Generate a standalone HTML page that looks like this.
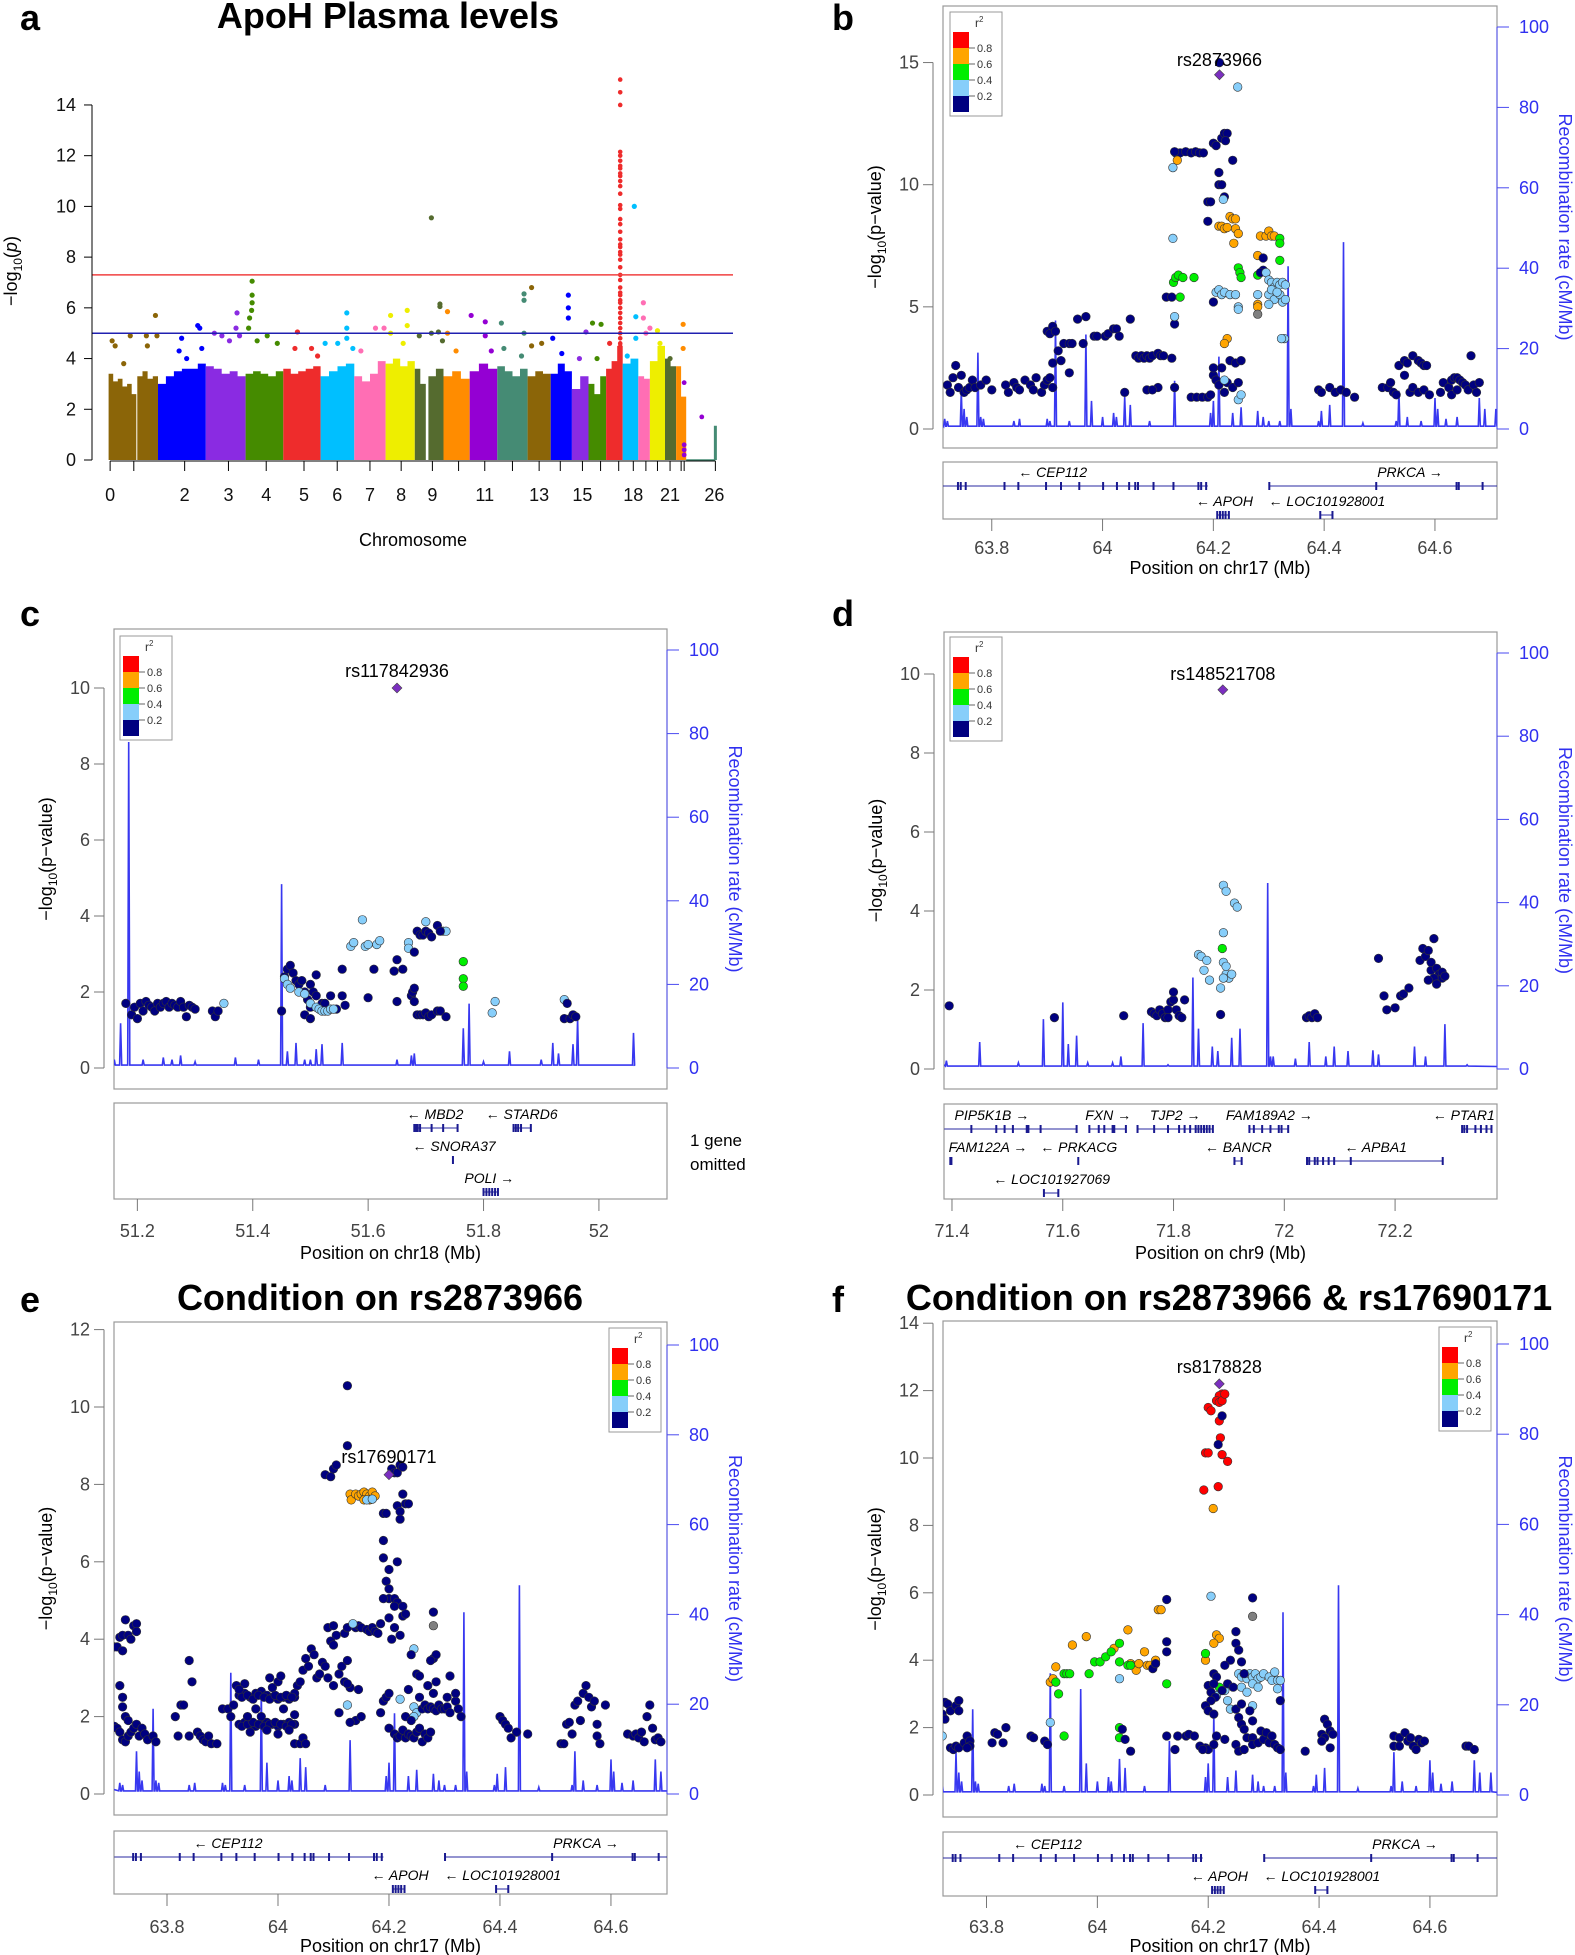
<!DOCTYPE html>
<html><head><meta charset="utf-8"><title>ApoH figure</title>
<style>
html,body{margin:0;padding:0;background:#fff;}
svg{display:block;font-family:"Liberation Sans",Arial,sans-serif;}
</style></head>
<body>
<svg id="fig" width="1575" height="1955" viewBox="0 0 1575 1955" xmlns="http://www.w3.org/2000/svg"></svg>
<script>
// ================= DATA =================
// Panel a: Manhattan chromosome blocks (cumulative genome units)
const chrStart = [215,272,313,408,487,562,636,703,765,823,850,880,932,987,1047,1093,1135,1168,1203,1236,1267,1290,1320,1342];
const chrEnd   = [270,313,408,487,562,636,703,765,823,845,880,932,987,1047,1093,1135,1168,1203,1236,1267,1290,1320,1342,1362];
const chrColor = ['#8B6508','#8B6508','#0000FF','#8A2BE2','#458B00','#EE2C2C','#00BFFF','#FF6EB4','#EEEE00','#556B2F','#556B2F','#FF8C00','#9400D3','#458B74','#8B6508','#0000FF','#8A2BE2','#458B00','#EE2C2C','#00BFFF','#FF6EB4','#EEEE00','#556B2F','#FF8C00'];
const chrBody = [[3.4,3.1,3.2,2.9,3.0,2.6],[3.3,3.5,3.2,3.3],[3.0,3.3,3.5,3.6,3.6,3.8],[3.7,3.6,3.4,3.5,3.3],[3.4,3.5,3.4,3.3,3.5],[3.6,3.4,3.5,3.6,3.7],[3.3,3.5,3.7,3.8],[3.3,3.1,3.4,3.9],[3.8,4.0,3.7,3.9],[3.6,3.0],[3.3,3.6],[3.3,3.5,3.2],[3.5,3.8,3.6],[3.7,3.5,3.3,3.6],[3.3,3.5,3.4],[3.4,3.8,3.5],[2.8,3.3],[3.0,2.6,3.3],[3.6,3.9,4.5],[3.8,4.0],[3.3,3.2],[3.9,4.5],[4.0,3.7],[3.7,2.5]];
// top hits: [genome unit, -log10 p, chromosome block index]
const manHits = [[222,4.7,0],[228,4.5,0],[245,3.8,0],[258,4.9,0],[290,4.9,1],[292,4.5,1],[308,5.7,1],[311,4.9,1],
[355,4.3,2],[360,4.8,2],[392,5.3,2],[396,5.2,2],[370,4.0,2],[400,4.4,2],
[425,5.0,3],[440,4.9,3],[455,4.7,3],[470,5.8,3],[468,5.2,3],[475,4.9,3],
[500,7.05,4],[500,6.5,4],[495,5.6,4],[500,6.2,4],[499,5.9,4],[510,4.7,4],[530,4.9,4],[550,4.6,4],[493,5.2,4],
[590,5.05,5],[585,4.4,5],[618,4.4,5],[630,4.1,5],
[645,4.6,6],[670,4.6,6],[688,5.8,6],[688,5.2,6],[688,4.8,6],[700,4.4,6],
[716,4.3,7],[745,5.2,7],[762,5.2,7],
[775,5.7,8],[808,5.9,8],[808,5.3,8],[800,4.6,8],[775,5.0,8],
[832,4.9,9],
[856,9.55,10],[873,6.15,10],[873,6.05,10],[856,5.0,10],[870,5.05,10],[878,4.7,10],
[888,5.85,11],[888,5.0,11],[905,4.3,11],
[935,5.7,12],[963,5.45,12],[963,4.9,12],[975,4.3,12],
[995,5.4,13],[1000,4.4,13],[1040,6.55,13],[1040,6.3,13],[1040,5.0,13],[1035,4.1,13],
[1055,6.8,14],[1055,4.5,14],[1075,4.6,14],
[1097,4.8,15],[1128,6.5,15],[1128,6.0,15],[1128,5.6,15],[1115,4.2,15],
[1163,5.05,16],[1150,4.0,16],
[1176,5.4,17],[1193,5.35,17],[1185,4.0,17],
[1210,4.6,18],
[1259,10.0,19],[1262,5.65,19],[1262,4.8,19],[1245,4.1,19],
[1277,6.2,20],[1277,5.6,20],[1282,5.0,20],[1290,5.2,20],
[1305,5.1,21],[1310,4.6,21],
[1330,4.0,22],
[1356,5.35,23],[1356,4.4,23]];
// chr17 column values
const chr17ColPos = 1231;
const chr17ColVals = [4.6,4.8,5.0,5.2,5.4,5.6,5.8,6.0,6.2,6.3,6.5,6.6,6.8,7.1,7.3,7.6,7.9,8.1,8.2,8.4,8.5,8.7,9.0,9.3,9.5,9.9,10.05,10.5,10.8,11.0,11.2,11.3,11.5,11.6,11.8,12.0,12.15,14.0,14.5,15.0];
const smallHits = [[1358,3.05,'#9400D3'],[1358,0.6,'#9400D3'],[1358,0.4,'#9400D3'],[1358,0.2,'#9400D3'],[1393,1.7,'#9400D3']];
const chr26Col = [1420,1.35];
const manTickPos = [218,265,366,453,528,603,669,734,796,858,910,962,1017,1070,1112,1156,1192,1228,1257,1282,1305,1330,1352,1358,1420];
const manLabPos = [218,366,453,528,603,669,734,796,858,962,1070,1156,1257,1330,1418];
const manLabTxt = ['0','2','3','4','5','6','7','8','9','11','13','15','18','21','26'];
const manYTicks = [0,2,4,6,8,10,12,14];
const sigLine = 7.3, sugLine = 5;

// LD colors: 0 navy,1 lightblue,2 green,3 orange,4 red,5 gray
const ldColors = ['#000080','#87CEFA','#00EE00','#FFA500','#FF0000','#808080'];

// Recombination rate spikes chr17 [pos Mb], [cM/Mb]
const rec17Pos  = [63.715,63.72,63.745,63.75,63.755,63.775,63.78,63.785,63.84,63.85,63.9,63.905,63.915,63.94,63.97,63.98,64.0,64.02,64.025,64.04,64.05,64.085,64.13,64.195,64.2,64.21,64.235,64.25,64.28,64.29,64.3,64.32,64.335,64.34,64.39,64.395,64.41,64.435,64.47,64.53,64.535,64.55,64.575,64.6,64.605,64.62,64.64,64.68,64.69,64.71];
const rec17Rate = [2.5,2,9.5,5,3,19,3,2.5,2,2.5,2.5,2,27,2,23.5,7,3,4,3,8,6,2,12,4,7,18,4,5.4,4.5,3,2,2,40.5,5,2,4.5,6,46.5,1.5,2,9.5,3,2,7.7,5,2.5,3,7.7,5,5];
const rec18Pos  = [51.16,51.171,51.185,51.21,51.245,51.26,51.275,51.3,51.37,51.41,51.45,51.46,51.475,51.49,51.5,51.51,51.52,51.555,51.65,51.675,51.68,51.765,51.775,51.8,51.845,51.9,51.92,51.93,51.955,51.963,52.06];
const rec18Rate = [2,10.7,78,2,2.5,2,3,1.5,2.5,2,44,4,6,2,2,4.5,5.7,6,2,3,3.5,9.5,15.4,1.5,4,2,6,3.5,5.7,12,8.4];
const rec9Pos  = [71.39,71.45,71.52,71.565,71.6,71.61,71.625,71.645,71.69,71.705,71.745,71.79,71.835,71.845,71.87,71.88,71.905,71.92,71.97,71.975,71.98,72.02,72.045,72.075,72.09,72.115,72.16,72.17,72.235,72.255,72.29,72.33];
const rec9Rate = [2,6.5,1.5,12,16,6,8,1.5,1.5,3,11,1,22,9.7,5.4,4.3,7.5,9.7,44.7,3,3,2.5,6.5,3,5.4,4.3,4.5,3.5,5.4,3,10.8,1];

// Panel b points [Mb, -log10p, ld]
const bPoints = [[64.211,15.0,0],[64.244,14.0,1],
[64.132,11.3,0],[64.14,11.3,0],[64.15,11.35,0],[64.16,11.3,0],[64.168,11.35,0],[64.175,11.3,0],[64.182,11.3,0],[64.13,11.35,0],
[64.135,11.0,3],[64.127,10.7,1],
[64.2,11.7,0],[64.205,11.6,0],[64.215,11.9,0],[64.22,12.1,0],[64.225,12.1,0],[64.222,11.8,0],[64.235,11.0,0],[64.21,10.5,0],[64.21,10.0,0],[64.215,10.0,0],[64.22,9.5,0],[64.218,9.4,1],[64.19,9.3,0],[64.195,9.3,0],[64.19,8.5,0],
[64.21,8.3,3],[64.215,8.3,3],[64.22,8.2,3],[64.225,8.25,3],[64.23,8.7,3],[64.235,8.6,3],[64.24,8.6,3],[64.24,8.2,3],[64.245,8.0,3],[64.237,7.6,3],
[64.127,7.8,1],
[64.28,7.1,3],[64.29,7.0,0],[64.285,7.9,3],[64.295,7.9,3],[64.3,8.1,3],[64.305,7.9,3],[64.31,7.9,3],[64.32,7.8,2],[64.32,7.6,2],[64.32,6.9,2],
[64.128,6.0,2],[64.132,6.2,2],[64.137,6.3,2],[64.145,6.2,2],[64.165,6.2,2],[64.14,5.4,2],
[64.245,6.6,2],[64.248,6.4,2],[64.25,6.2,2],[64.28,6.3,2],
[64.29,6.5,0],[64.285,6.4,0],
[64.205,5.6,1],[64.21,5.7,1],[64.215,5.5,1],[64.22,5.6,1],[64.23,5.5,1],[64.24,5.5,1],[64.245,5.0,1],[64.245,4.9,1],
[64.295,6.4,1],[64.3,6.1,1],[64.305,6.0,1],[64.31,5.8,1],[64.315,6.0,1],[64.32,5.9,1],[64.325,6.0,1],[64.33,5.9,1],[64.3,5.5,1],[64.31,5.3,1],[64.32,5.5,1],[64.325,5.2,1],[64.3,5.1,1],[64.305,5.7,1],[64.315,5.6,1],[64.33,5.3,1],[64.328,3.7,1],[64.323,3.7,1],
[64.28,5.5,1],[64.28,5.1,3],[64.28,5.0,3],[64.28,4.7,5],
[64.115,5.4,0],[64.125,5.4,0],[64.13,4.3,0],[64.13,4.6,1],[64.2,5.2,0],
[64.225,3.7,3],[64.22,3.5,3],
[63.9,4.0,0],[63.905,3.9,0],[63.91,4.2,0],[63.915,4.0,0],[63.92,3.2,0],[63.93,3.5,0],[63.94,3.5,0],[63.945,3.5,0],[63.955,4.5,0],[63.97,4.6,0],[63.965,3.5,0],[63.985,3.8,0],[63.99,3.8,0],[64.005,3.8,0],[64.01,3.9,0],[64.02,4.1,0],[64.025,4.1,0],[64.03,3.8,0],[64.05,4.5,0],
[64.06,3.0,0],[64.065,2.9,0],[64.07,3.0,0],[64.075,2.9,0],[64.08,3.0,0],[64.085,2.9,0],[64.09,3.0,0],[64.1,3.1,0],[64.105,3.0,0],[64.11,3.0,0],[64.125,2.9,0],
[63.91,2.7,0],[63.925,2.8,0],[63.94,2.3,0],
[64.2,2.2,0],[64.2,2.5,0],[64.205,2.0,0],[64.21,1.8,0],[64.215,2.5,0],[64.22,1.5,0],[64.225,1.9,0],[64.23,2.8,0],[64.235,1.7,0],[64.24,2.7,0],[64.245,1.9,0],[64.25,2.8,0],[64.22,2.0,1],[64.245,1.2,1],[64.25,1.4,1],
[64.16,1.3,0],[64.17,1.3,0],[64.18,1.3,0],[64.19,1.3,0],[64.195,1.4,0],[64.13,1.7,0],[64.1,1.7,0],[64.08,1.6,0],[64.09,1.6,0],[64.04,1.5,0],
[63.72,1.8,0],[63.725,1.5,0],[63.73,2.1,0],[63.735,2.6,0],[63.74,1.7,0],[63.745,2.2,0],[63.75,1.5,0],[63.755,1.6,0],[63.76,1.7,0],[63.765,2.0,0],[63.77,1.7,0],[63.78,1.8,0],[63.79,2.0,0],[63.8,1.6,0],
[63.825,1.8,0],[63.83,1.5,0],[63.84,1.9,0],[63.845,1.7,0],[63.85,1.6,0],[63.86,2.0,0],[63.87,1.8,0],[63.875,1.6,0],[63.88,2.1,0],[63.89,1.5,0],[63.895,1.8,0],[63.9,2.0,0],[63.905,2.1,0],[63.91,1.7,0],
[64.39,1.6,0],[64.395,1.5,0],[64.41,1.7,0],[64.42,1.5,0],[64.43,1.6,0],[64.44,1.5,0],[64.455,1.3,0],
[64.505,1.7,0],[64.515,1.7,0],[64.52,1.9,0],[64.525,1.5,0],[64.53,1.4,0],[64.535,2.6,0],[64.545,2.8,0],[64.55,2.7,0],[64.56,3.0,0],[64.57,2.8,0],[64.575,2.7,0],[64.58,2.6,0],[64.585,2.6,0],[64.545,2.2,0],[64.555,1.5,0],[64.56,1.7,0],[64.57,1.5,0],[64.58,1.6,0],[64.59,1.4,0],
[64.61,1.5,0],[64.615,1.9,0],[64.625,1.7,0],[64.63,2.0,0],[64.635,2.1,0],[64.64,2.1,0],[64.645,2.0,0],[64.65,1.9,0],[64.655,1.8,0],[64.66,1.6,0],[64.665,3.0,0],[64.67,1.8,0],[64.675,1.5,0],[64.68,1.9,0],[64.63,1.4,0],[64.64,1.6,0]];
const bLead = [64.211,14.5];

const cPoints = [[51.18,1.7,0],[51.19,1.4,0],[51.195,1.6,0],[51.2,1.3,0],[51.205,1.7,0],[51.21,1.5,0],[51.215,1.75,0],[51.22,1.65,0],[51.225,1.6,0],[51.23,1.5,0],[51.235,1.7,0],[51.24,1.6,0],[51.245,1.7,0],[51.25,1.75,0],[51.255,1.6,0],[51.26,1.7,0],[51.265,1.65,0],[51.27,1.6,0],[51.275,1.75,0],[51.28,1.6,0],[51.285,1.35,0],[51.29,1.65,0],[51.295,1.6,0],[51.3,1.55,0],[51.33,1.5,0],[51.335,1.35,0],[51.34,1.5,0],[51.35,1.7,1],
[51.45,1.5,0],[51.455,2.4,0],[51.46,2.6,0],[51.465,2.7,0],[51.47,2.5,0],[51.475,2.3,0],[51.48,2.2,0],[51.485,2.3,0],[51.49,2.0,0],[51.495,1.8,0],[51.5,1.6,0],[51.5,2.2,0],[51.505,2.0,0],[51.51,2.45,0],[51.51,1.9,0],[51.52,1.7,0],[51.49,1.4,0],[51.5,1.3,0],[51.525,1.7,0],[51.535,1.9,0],[51.555,1.9,0],[51.56,1.65,0],[51.545,1.55,0],[51.555,2.6,0],
[51.455,2.35,1],[51.46,2.2,1],[51.465,2.1,1],[51.48,2.0,1],[51.49,1.95,1],[51.5,1.7,1],[51.51,1.6,1],[51.515,1.55,1],[51.52,1.5,1],[51.525,1.5,1],[51.53,1.5,1],[51.535,1.55,1],[51.54,1.55,1],
[51.57,3.2,1],[51.575,3.3,1],[51.59,3.9,1],[51.595,3.2,1],[51.6,3.25,1],[51.615,3.25,1],[51.62,3.35,1],[51.67,3.3,1],[51.67,3.15,1],[51.7,3.85,1],[51.73,3.6,1],[51.735,3.6,1],
[51.61,2.6,0],[51.645,2.55,0],[51.65,2.85,0],[51.66,2.6,0],[51.6,1.85,0],[51.65,1.75,0],[51.68,3.05,0],[51.685,3.6,0],[51.69,3.5,0],[51.695,3.5,0],[51.7,3.6,0],[51.705,3.55,0],[51.71,3.45,0],[51.72,3.75,0],[51.725,3.6,0],[51.675,1.9,0],[51.677,2.0,0],[51.68,1.75,0],[51.68,2.1,0],[51.685,1.4,0],[51.69,1.4,0],[51.695,1.4,0],[51.7,1.45,0],[51.705,1.35,0],[51.71,1.4,0],[51.72,1.5,0],[51.725,1.5,0],[51.735,1.35,0],
[51.765,2.8,2],[51.765,2.35,2],[51.765,2.15,2],
[51.815,1.45,1],[51.82,1.75,1],[51.94,1.8,1],
[51.945,1.7,0],[51.94,1.3,0],[51.95,1.3,0],[51.955,1.4,0],[51.96,1.35,0]];
const cLead = [51.65,10.0];

const dPoints = [[71.395,1.6,0],[71.585,1.3,0],[71.71,1.35,0],
[71.76,1.45,0],[71.765,1.4,0],[71.77,1.35,0],[71.775,1.5,0],[71.78,1.4,0],[71.785,1.3,0],[71.79,1.5,0],[71.795,1.7,0],[71.8,1.75,0],[71.8,1.95,0],[71.805,1.5,0],[71.81,1.35,0],[71.815,1.3,0],[71.82,1.75,0],[71.79,1.3,0],
[71.845,2.9,1],[71.85,2.85,1],[71.855,2.5,1],[71.86,2.75,1],[71.865,2.25,1],[71.885,2.05,1],[71.89,3.45,1],[71.89,2.7,1],[71.895,2.4,1],[71.9,2.3,1],[71.895,2.6,1],[71.905,2.4,1],[71.89,4.65,1],[71.895,4.5,1],[71.91,4.2,1],[71.915,4.1,1],[71.89,2.3,1],[71.888,3.05,2],[71.885,1.38,0],
[72.04,1.3,0],[72.045,1.35,0],[72.05,1.3,0],[72.055,1.4,0],[72.06,1.3,0],
[72.17,2.8,0],[72.18,1.85,0],[72.185,1.5,0],[72.2,1.55,0],[72.21,1.85,0],[72.215,1.9,0],[72.225,2.05,0],[72.245,2.75,0],[72.25,3.05,0],[72.255,2.85,0],[72.26,3.0,0],[72.265,2.5,0],[72.27,3.3,0],[72.265,2.7,0],[72.275,2.55,0],[72.28,2.4,0],[72.285,2.3,0],[72.27,2.3,0],[72.275,2.15,0],[72.26,2.25,0],[72.285,2.45,0],[72.29,2.35,0]];
const dLead = [71.889,9.6];

const ePoints = [[64.125,10.55,0],[64.125,9.0,0],[64.085,8.25,0],[64.095,8.2,0],[64.1,8.4,0],[64.105,8.5,0],[64.205,8.4,0],[64.21,8.3,0],[64.215,8.3,0],[64.22,8.5,0],[64.225,8.45,0],[64.225,7.75,0],[64.23,7.5,0],[64.215,7.45,0],[64.22,7.3,0],[64.235,7.5,0],[64.22,7.1,0],[64.19,7.25,0],[64.195,7.25,0],[64.19,6.55,0],[64.19,6.1,0],[64.2,5.8,0],[64.215,6.0,0],[64.195,5.5,0],[64.2,5.3,0],[64.2,5.05,0],[64.19,5.05,0],[64.21,5.05,0],[64.215,4.95,0],[64.21,4.85,0],[64.225,4.85,0],[64.2,4.55,0],[64.205,4.0,0],[64.21,4.3,0],[64.225,4.6,0],[64.23,4.65,0],[64.22,4.1,0],[64.28,4.7,0],[64.28,4.35,5],
[64.13,7.75,3],[64.132,7.6,3],[64.14,7.75,3],[64.145,7.7,3],[64.15,7.75,3],[64.155,7.8,3],[64.16,7.75,3],[64.165,7.7,3],[64.17,7.8,3],[64.175,7.7,3],[64.165,7.6,3],[64.155,7.6,3],[64.16,7.6,1],[64.17,7.62,1],
[64.09,4.3,0],[64.1,4.35,0],[64.105,4.1,0],[64.12,4.15,0],[64.125,4.3,0],[64.14,4.3,0],[64.145,4.35,0],[64.15,4.3,0],[64.16,4.25,0],[64.165,4.2,0],[64.17,4.3,0],[64.175,4.2,0],[64.18,4.15,0],[64.185,4.4,0],[64.135,4.4,1],
[64.03,2.5,0],[64.035,2.8,0],[64.04,2.9,0],[64.045,3.2,0],[64.05,3.5,0],[64.055,3.3,0],[64.06,3.75,0],[64.065,3.6,0],[64.07,3.0,0],[64.075,3.1,0],[64.08,3.4,0],[64.085,3.3,0],[64.09,3.0,0],[64.095,3.95,0],[64.1,3.85,0],[64.11,3.1,0],[64.115,3.3,0],[64.12,2.9,0],[64.125,3.45,0],[64.13,2.75,0],[64.125,2.85,0],[64.1,2.8,0],[64.11,2.1,0],[64.14,1.9,0],[64.13,1.85,0],[64.145,2.7,0],[64.15,2.0,0],
[64.125,2.3,1],[64.245,3.75,1],[64.22,2.45,1],[64.245,2.25,1],[64.25,2.1,1],[64.245,2.0,1],
[63.93,2.55,0],[63.94,2.6,0],[63.95,2.5,0],[63.96,2.6,0],[63.97,2.65,0],[63.98,2.55,0],[63.99,2.5,0],[64.0,2.45,0],[64.01,2.5,0],[64.02,2.45,0],[64.03,2.6,0],[63.935,2.5,0],[63.945,2.55,0],[63.955,2.45,0],[63.965,2.55,0],[63.975,2.5,0],[63.985,2.45,0],[63.995,2.55,0],[64.005,2.5,0],[64.015,2.55,0],[64.025,2.5,0],
[63.93,1.8,0],[63.94,1.85,0],[63.95,1.8,0],[63.96,1.75,0],[63.97,1.8,0],[63.98,1.85,0],[63.99,1.8,0],[64.0,1.75,0],[64.01,1.8,0],[64.02,1.85,0],[64.03,1.8,0],[63.935,1.75,0],[63.945,1.8,0],[63.955,1.85,0],[63.965,1.8,0],[63.975,1.75,0],[63.985,1.8,0],[63.995,1.85,0],[64.005,1.8,0],[64.015,1.75,0],[64.025,1.8,0],
[63.945,2.0,0],[63.96,2.2,0],[63.97,2.0,0],[64.01,2.2,0],[64.02,1.65,0],[64.03,2.05,0],[63.95,1.6,0],[63.98,1.65,0],[64.0,1.55,0],[63.985,3.0,0],[64.0,2.9,0],[64.005,3.05,0],[63.99,2.75,0],[63.94,2.85,0],
[64.2,1.7,0],[64.21,1.55,0],[64.215,1.45,0],[64.22,1.5,0],[64.225,1.65,0],[64.23,1.45,0],[64.235,1.55,0],[64.24,1.5,0],[64.245,1.45,0],[64.25,1.6,0],[64.255,1.7,0],[64.26,1.35,0],[64.265,1.55,0],[64.27,1.45,0],[64.275,1.6,0],[64.255,2.5,0],[64.26,2.2,0],[64.265,2.3,0],[64.27,2.2,0],[64.275,2.25,0],[64.28,2.2,0],[64.285,2.15,0],[64.29,2.3,0],[64.295,2.2,0],[64.3,2.2,0],[64.305,2.25,0],[64.31,2.1,0],[64.28,2.6,0],[64.285,2.9,0],[64.28,3.5,0],[64.285,3.6,0],[64.275,3.45,0],[64.24,3.6,0],[64.25,3.1,0],[64.255,3.05,0],[64.27,2.8,0],[64.305,2.5,0],[64.31,3.05,0],[64.32,2.4,0],[64.325,2.2,0],[64.33,2.0,0],[64.32,2.6,0],[64.23,2.0,0],[64.235,2.7,0],[64.24,1.9,0],[64.19,2.4,0],[64.195,2.5,0],[64.185,2.1,0],[64.2,2.6,0],
[63.705,3.8,0],[63.71,3.8,0],[63.715,4.05,0],[63.72,4.1,0],[63.725,4.5,0],[63.73,4.1,0],[63.735,4.0,0],[63.74,4.35,0],[63.745,4.4,0],[63.745,4.2,0],[63.72,3.7,0],[63.715,2.8,0],[63.72,2.5,0],[63.72,2.25,0],[63.725,2.0,0],[63.73,1.9,0],[63.705,1.75,0],[63.71,1.7,0],[63.715,1.6,0],[63.72,1.4,0],[63.725,1.35,0],[63.73,1.5,0],[63.735,1.6,0],[63.74,1.7,0],[63.745,1.8,0],[63.75,1.5,0],[63.755,1.7,0],[63.76,1.55,0],[63.765,1.4,0],[63.775,1.5,0],[63.78,1.35,0],
[63.815,2.0,0],[63.82,1.5,0],[63.825,2.3,0],[63.83,2.3,0],[63.84,3.45,0],[63.845,2.9,0],[63.84,1.5,0],[63.855,1.6,0],[63.86,1.5,0],[63.865,1.4,0],[63.87,1.35,0],[63.875,1.5,0],[63.88,1.3,0],[63.89,1.3,0],[63.9,2.2,0],[63.91,2.2,0],[63.915,2.0,0],[63.92,2.3,0],[63.925,2.8,0],[63.93,2.7,0],
[64.03,1.3,0],[64.04,1.3,0],[64.045,1.45,0],[64.05,1.3,0],
[64.4,2.0,0],[64.405,1.9,0],[64.41,1.8,0],[64.415,1.7,0],[64.42,1.45,0],[64.43,1.6,0],[64.45,1.55,0],[64.51,1.3,0],[64.515,1.3,0],[64.52,1.8,0],[64.525,1.85,0],[64.53,1.55,0],[64.535,2.3,0],[64.54,2.4,0],[64.545,1.9,0],[64.55,2.6,0],[64.555,2.8,0],[64.56,2.5,0],[64.565,2.25,0],[64.57,2.4,0],[64.575,1.8,0],[64.575,1.5,0],[64.58,1.3,0],[64.59,2.3,0],[64.63,1.55,0],[64.64,1.5,0],[64.645,1.55,0],[64.65,1.45,0],[64.655,1.6,0],[64.66,1.35,0],[64.665,2.0,0],[64.67,2.3,0],[64.675,1.7,0],[64.68,1.4,0],[64.685,1.45,0],[64.69,1.35,0]];
const eLead = [64.2,8.25];

const fPoints = [[64.225,11.9,4],[64.22,11.85,4],[64.215,11.7,4],[64.22,11.65,4],[64.225,11.7,4],[64.23,11.9,4],[64.2,11.5,4],[64.205,11.4,4],[64.22,11.1,4],[64.222,10.6,4],[64.195,10.15,4],[64.2,10.15,4],[64.225,10.1,4],[64.235,9.9,4],[64.218,9.15,4],[64.192,9.05,4],[64.225,11.25,0],[64.218,10.4,0],[64.209,8.5,3],
[64.205,5.9,1],[64.28,5.85,0],[64.28,5.3,5],[64.125,5.8,0],[64.11,5.5,3],[64.115,5.5,3],[64.125,4.55,0],[64.125,4.25,0],
[63.915,3.35,3],[63.92,3.45,3],[63.925,3.8,3],[63.955,4.45,3],[63.98,4.7,3],[64.03,4.35,3],[64.055,4.9,3],[64.06,3.9,3],[64.065,3.85,3],[64.07,3.7,3],[64.075,3.9,3],[64.085,4.25,3],[64.09,3.85,3],[64.095,3.85,3],[64.105,4.0,3],[64.215,4.75,3],[64.22,4.65,3],[64.21,4.5,3],[64.195,4.0,3],
[63.925,3.35,2],[63.93,3.0,2],[63.94,3.6,2],[63.945,3.6,2],[63.95,3.6,2],[63.985,3.6,2],[63.995,3.95,2],[64.005,3.95,2],[64.015,4.1,2],[64.025,4.25,2],[64.04,4.5,2],[64.04,3.95,2],[64.055,3.85,2],[64.06,3.85,2],[64.125,3.3,2],[63.94,1.75,2],[64.04,2.0,2],[64.04,1.7,2],[64.195,4.2,2],[64.22,3.2,2],
[64.04,3.45,1],[63.915,2.15,1],[63.72,1.75,1],
[64.255,3.6,1],[64.26,3.5,1],[64.265,3.6,1],[64.27,3.45,1],[64.275,3.6,1],[64.28,3.5,1],[64.285,3.6,1],[64.29,3.45,1],[64.295,3.5,1],[64.3,3.6,1],[64.31,3.5,1],[64.315,3.4,1],[64.32,3.65,1],[64.325,3.4,1],[64.33,3.4,1],[64.26,3.2,1],[64.27,3.05,1],[64.28,3.3,1],[64.29,3.2,1],[64.325,3.15,1],[64.23,3.1,1],[64.235,2.8,1],[64.24,2.55,1],[64.28,2.65,1],[64.215,2.95,1],
[64.25,4.85,0],[64.25,4.5,0],[64.255,4.3,0],[64.26,3.95,0],[64.265,3.6,0],[64.24,4.0,0],[64.23,3.85,0],[64.2,3.25,0],[64.205,3.05,0],[64.21,3.6,0],[64.215,3.5,0],[64.21,3.3,0],[64.213,2.9,0],[64.205,2.8,0],[64.195,2.65,0],[64.2,2.5,0],[64.21,2.4,0],[64.225,3.1,0],[64.235,3.3,0],[64.245,3.2,0],[64.25,2.55,0],[64.255,2.3,0],[64.26,2.1,0],[64.265,1.95,0],[64.27,1.7,0],[64.26,2.7,0],[64.275,2.5,0],[64.28,2.2,0],[64.215,1.75,0],[64.23,1.65,0],[64.25,1.5,0],[64.255,1.3,0],[64.265,1.35,0],[64.28,1.7,0],[64.28,1.5,0],[64.29,1.55,0],[64.295,1.9,0],[64.3,1.65,0],[64.305,1.85,0],[64.31,1.55,0],[64.315,1.75,0],[64.32,1.5,0],[64.325,1.4,0],[64.33,1.35,0],[64.33,2.8,0],[64.195,1.4,0],[64.2,1.35,0],[64.21,1.5,0],
[63.72,2.4,0],[63.725,2.75,0],[63.73,2.7,0],[63.725,2.25,0],[63.735,2.5,0],[63.745,2.65,0],[63.75,2.8,0],[63.75,2.5,0],[63.735,1.4,0],[63.74,1.35,0],[63.745,1.45,0],[63.75,1.4,0],[63.76,1.55,0],[63.765,1.75,0],[63.77,1.6,0],[63.77,1.45,0],[63.765,1.4,0],[63.81,1.55,0],[63.815,1.85,0],[63.82,1.8,0],[63.83,1.55,0],[63.835,2.0,0],[63.88,1.75,0],[63.885,1.7,0],[63.905,1.6,0],[63.91,1.5,0],
[64.045,1.95,0],[64.05,1.65,0],[64.06,1.3,0],[64.125,1.75,0],[64.145,1.75,0],[64.16,1.75,0],[64.165,1.8,0],[64.175,1.75,0],[64.14,1.35,0],[64.185,1.45,0],[64.19,1.35,0],[64.1,3.75,0],[64.105,3.9,0],
[64.375,1.3,0],[64.405,1.8,0],[64.41,2.25,0],[64.415,2.1,0],[64.42,1.9,0],[64.41,1.7,0],[64.405,1.6,0],[64.42,1.4,0],[64.425,1.8,0],[64.535,1.75,0],[64.535,1.45,0],[64.545,1.45,0],[64.545,1.7,0],[64.555,1.85,0],[64.56,1.6,0],[64.565,1.7,0],[64.57,1.45,0],[64.575,1.35,0],[64.58,1.65,0],[64.585,1.55,0],[64.59,1.6,0],[64.665,1.45,0],[64.67,1.45,0],[64.68,1.35,0]];
const fLead = [64.22,12.2];

// Gene tracks: [name label, start Mb, end Mb, row, label center Mb, exons...]
const chr17Genes = [
 {label:'\u2190 CEP112', s:63.705, e:64.19, row:0, lc:63.91, ex:[63.739,63.744,63.753,63.823,63.848,63.898,63.925,63.958,64.001,64.026,64.048,64.059,64.064,64.092,64.128,64.173,64.178,64.187]},
 {label:'PRKCA \u2192', s:64.3, e:64.73, row:0, lc:64.555, ex:[64.301,64.494,64.639,64.643,64.686]},
 {label:'\u2190 APOH', s:64.207, e:64.228, row:1, lc:64.22, ex:[64.207,64.212,64.217,64.222,64.228]},
 {label:'\u2190 LOC101928001', s:64.393, e:64.415, row:1, lc:64.405, ex:[64.393,64.415]}];
const chr18Genes = [
 {label:'\u2190 MBD2', s:51.68, e:51.755, row:0, lc:51.716, ex:[51.68,51.683,51.686,51.69,51.71,51.73,51.755]},
 {label:'\u2190 STARD6', s:51.852, e:51.882, row:0, lc:51.866, ex:[51.852,51.856,51.86,51.865,51.882]},
 {label:'\u2190 SNORA37', s:51.747, e:51.748, row:1, lc:51.749, ex:[51.747]},
 {label:'POLI \u2192', s:51.8, e:51.825, row:2, lc:51.81, ex:[51.8,51.805,51.81,51.815,51.82,51.825]}];
const chr9Genes = [
 {label:'PIP5K1B \u2192', s:71.386, e:71.625, row:0, lc:71.472, ex:[71.435,71.48,71.495,71.51,71.535,71.538,71.56,71.625]},
 {label:'FXN \u2192', s:71.648, e:71.714, row:0, lc:71.682, ex:[71.648,71.665,71.675,71.69,71.693,71.714]},
 {label:'TJP2 \u2192', s:71.735, e:71.871, row:0, lc:71.803, ex:[71.735,71.765,71.79,71.81,71.82,71.83,71.84,71.845,71.85,71.855,71.86,71.865,71.871]},
 {label:'FAM189A2 \u2192', s:71.937, e:72.007, row:0, lc:71.973, ex:[71.937,71.945,71.96,71.975,71.99,71.995,72.007]},
 {label:'\u2190 PTAR1', s:72.321, e:72.374, row:0, lc:72.324, ex:[72.321,72.325,72.33,72.345,72.355,72.365,72.374]},
 {label:'FAM122A \u2192', s:71.397, e:71.399, row:1, lc:71.465, ex:[71.397,71.399]},
 {label:'\u2190 PRKACG', s:71.627, e:71.629, row:1, lc:71.629, ex:[71.628]},
 {label:'\u2190 BANCR', s:71.91, e:71.923, row:1, lc:71.917, ex:[71.91,71.923]},
 {label:'\u2190 APBA1', s:72.041, e:72.286, row:1, lc:72.165, ex:[72.041,72.045,72.055,72.06,72.07,72.08,72.09,72.12,72.286]},
 {label:'\u2190 LOC101927069', s:71.566, e:71.592, row:2, lc:71.58, ex:[71.566,71.592]}];

const t17 = [63.8,64,64.2,64.4,64.6], t17L=['63.8','64','64.2','64.4','64.6'];
const t18 = [51.2,51.4,51.6,51.8,52], t18L=['51.2','51.4','51.6','51.8','52'];
const t9 = [71.4,71.6,71.8,72,72.2], t9L=['71.4','71.6','71.8','72','72.2'];
const recTicks = [0,20,40,60,80,100];

// ================= DRAWING =================
const NS='http://www.w3.org/2000/svg';
const svg=document.getElementById('fig');
function mk(tag, attrs, parent){const e=document.createElementNS(NS,tag);for(const k in attrs)e.setAttribute(k,attrs[k]);(parent||svg).appendChild(e);return e;}
function txt(parent, x, y, s, attrs){const t=mk('text',Object.assign({x:x,y:y},attrs||{}),parent);t.textContent=s;return t;}

// Panel letters and titles
[['a',20,30],['b',832,30],['c',20,626],['d',832,626],['e',20,1312],['f',832,1312]].forEach(function(p){
  const t=txt(svg,p[1],p[2],p[0],{'font-size':36,'font-weight':'bold'});
  
  
});
[['ApoH Plasma levels',388,28,'title-a'],['Condition on rs2873966',380,1310,'title-e'],['Condition on rs2873966 & rs17690171',1229,1310,'title-f']].forEach(function(p){
  const t=txt(svg,p[1],p[2],p[0],{'font-size':36,'font-weight':'bold','text-anchor':'middle'});
  
  
});

// ---- Manhattan ----
(function(){
  const g=mk('g',{});
  
  
  const X=u=>92+(u-182)*(733-92)/(1455-182);
  const Y=v=>460-v*25.36;
  // bodies
  for(let i=0;i<chrStart.length;i++){
    const b=chrBody[i], s=chrStart[i], e=chrEnd[i], w=(e-s)/b.length;
    let pts=[[X(s),Y(0)]];
    for(let j=0;j<b.length;j++){pts.push([X(s+j*w),Y(b[j])]);pts.push([X(s+(j+1)*w),Y(b[j])]);}
    pts.push([X(e),Y(0)]);
    const p=mk('polygon',{points:pts.map(q=>q[0].toFixed(1)+','+q[1].toFixed(1)).join(' '),fill:chrColor[i]},g);
    
    
  }
  manHits.forEach(function(h){
    const c=mk('circle',{cx:X(h[0]),cy:Y(h[1]),r:2.6,fill:chrColor[h[2]]},g);
    
    
  });
  chr17ColVals.forEach(function(v){
    const c=mk('circle',{cx:X(chr17ColPos),cy:Y(v),r:2.3,fill:'#EE2C2C'},g);
    
    
  });
  const col=mk('rect',{x:X(chr17ColPos)-2,y:Y(4.6),width:4,height:Y(0)-Y(4.6),fill:'#EE2C2C'},g);
  
  
  smallHits.forEach(function(h){
    const c=mk('circle',{cx:X(h[0]),cy:Y(h[1]),r:2.4,fill:h[2]},g);
    
    
  });
  const c26=mk('rect',{x:X(chr26Col[0])-1.5,y:Y(chr26Col[1]),width:3,height:Y(0)-Y(chr26Col[1]),fill:'#458B74'},g);
  
  
  const base=mk('line',{x1:X(1362),x2:X(1420),y1:Y(0),y2:Y(0),stroke:'#458B74','stroke-width':1.5},g);
  
  
  // threshold lines
  const rl=mk('line',{x1:92,x2:733,y1:Y(sigLine),y2:Y(sigLine),stroke:'#F04040','stroke-width':1.5},g);
  
  
  const bl=mk('line',{x1:92,x2:733,y1:Y(sugLine),y2:Y(sugLine),stroke:'#2020B0','stroke-width':1.5},g);
  
  
  // y axis
  const ya=mk('line',{x1:92,x2:92,y1:Y(0),y2:Y(14),stroke:'#000','stroke-width':1},g);
  
  
  manYTicks.forEach(function(v){
    const l=mk('line',{x1:84,x2:92,y1:Y(v),y2:Y(v),stroke:'#000'},g);
    
    
    const t=txt(g,76,Y(v)+6,String(v),{'font-size':18,'text-anchor':'end','fill':'#111'});
    
    
  });
  const xa=mk('line',{x1:X(218),x2:X(1420),y1:461,y2:461,stroke:'#000','stroke-width':1},g);
  
  
  manTickPos.forEach(function(u){
    const l=mk('line',{x1:X(u),x2:X(u),y1:461,y2:471,stroke:'#000'},g);
    
    
  });
  manLabPos.forEach(function(u,i){
    const t=txt(g,X(u),501,manLabTxt[i],{'font-size':18,'text-anchor':'middle','fill':'#111'});
    
    
  });
  const xt=txt(g,413,546,'Chromosome',{'font-size':18,'text-anchor':'middle'});
  
  
  const yt=mk('text',{x:0,y:0,'font-size':18,'text-anchor':'middle',transform:'translate(17,271) rotate(-90)'},g);
  
  
  yt.innerHTML='\u2212log<tspan font-size="12" dy="5">10</tspan><tspan dy="-5">(</tspan><tspan font-style="italic">p</tspan>)';
})();

// ---- Locus plots ----
function locus(cfg, points, lead, recPos, recRate, genes, xt, xtl){
  const g=mk('g',{});
  
  
  const X=v=>cfg.fx0+(v-cfg.xd0)/(cfg.xd1-cfg.xd0)*(cfg.fx1-cfg.fx0);
  const Y=v=>cfg.y0-v*cfg.unit;
  const R=v=>cfg.y0-v*(cfg.y0-cfg.r100)/100;
  const clipId='clip-'+cfg.id;
  const cp=mk('clipPath',{id:clipId},g);
  mk('rect',{x:cfg.fx0,y:cfg.fy0,width:cfg.fx1-cfg.fx0,height:cfg.fy1-cfg.fy0},cp);
  const fr=mk('rect',{x:cfg.fx0,y:cfg.fy0,width:cfg.fx1-cfg.fx0,height:cfg.fy1-cfg.fy0,fill:'none',stroke:'#999','stroke-width':1.2},g);
  
  
  // recomb line
  let d='M'+X(cfg.xd0).toFixed(1)+','+R(1).toFixed(1);
  for(let i=0;i<recPos.length;i++){
    d+=' L'+X(recPos[i]-0.0018).toFixed(1)+','+R(0.7).toFixed(1)+' L'+X(recPos[i]).toFixed(1)+','+R(recRate[i]).toFixed(1)+' L'+X(recPos[i]+0.0018).toFixed(1)+','+R(0.7).toFixed(1);
  }
  d+=' L'+X(cfg.recEnd).toFixed(1)+','+R(0.6).toFixed(1);
  const rp=mk('path',{d:d,fill:'none',stroke:'#3838F0','stroke-width':1.6,'clip-path':'url(#'+clipId+')'},g);
  
  
  // points
  const pg=mk('g',{'clip-path':'url(#'+clipId+')'},g);
  
  
  points.forEach(function(p){
    const c=mk('circle',{cx:X(p[0]).toFixed(1),cy:Y(p[1]).toFixed(1),r:4.3,fill:ldColors[p[2]],stroke:'#333','stroke-width':0.6},pg);
    
    
  });
  const lx=X(lead[0]), ly=Y(lead[1]);
  const dm=mk('polygon',{points:lx+','+(ly-5)+' '+(lx+5)+','+ly+' '+lx+','+(ly+5)+' '+(lx-5)+','+ly,fill:'#7B2FC0',stroke:'#444','stroke-width':0.6},g);
  
  
  const lt=txt(g,lx,cfg.labelY,cfg.lead,{'font-size':18,'text-anchor':'middle'});
  
  
  // left axis
  const la=mk('line',{x1:cfg.fx0-10,x2:cfg.fx0-10,y1:Y(0),y2:Y(cfg.yt[cfg.yt.length-1]),stroke:'#777'},g);
  
  
  cfg.yt.forEach(function(v){
    const l=mk('line',{x1:cfg.fx0-20,x2:cfg.fx0-10,y1:Y(v),y2:Y(v),stroke:'#777'},g);
    
    
    const t=txt(g,cfg.fx0-24,Y(v)+6,String(v),{'font-size':18,'text-anchor':'end',fill:'#444'});
    
    
  });
  const yt=mk('text',{x:0,y:0,'font-size':18,'text-anchor':'middle',transform:'translate('+(cfg.fx0-62)+','+((cfg.fy0+cfg.fy1)/2)+') rotate(-90)'},g);
  
  
  yt.innerHTML='\u2212log<tspan font-size="12" dy="5">10</tspan><tspan dy="-5">(p\u2212value)</tspan>';
  // right axis
  const ra=mk('line',{x1:cfg.fx1,x2:cfg.fx1,y1:R(0),y2:R(100),stroke:'#4a4af0'},g);
  
  
  recTicks.forEach(function(v){
    const l=mk('line',{x1:cfg.fx1,x2:cfg.fx1+12,y1:R(v),y2:R(v),stroke:'#4a4af0'},g);
    
    
    const t=txt(g,cfg.fx1+22,R(v)+6,String(v),{'font-size':18,fill:'#3030F0'});
    
    
  });
  const rt=txt(g,0,0,'Recombination rate (cM/Mb)',{'font-size':18,'text-anchor':'middle',fill:'#3030F0',transform:'translate('+(cfg.fx1+62)+','+((cfg.fy0+cfg.fy1)/2)+') rotate(90)'});
  
  
  // legend
  const lg=mk('g',{},g);
  
  
  const L=cfg.leg;
  mk('rect',{x:L[0],y:L[1],width:52,height:104,fill:'#fff',stroke:'#999'},lg);
  const r2=txt(lg,L[0]+25,L[1]+15,'r',{'font-size':12,fill:'#333'});
  r2.innerHTML='r<tspan font-size="8" dy="-5">2</tspan>';
  
  
  [4,3,2,1,0].forEach(function(ci,i){
    const b=mk('rect',{x:L[0]+3,y:L[1]+20+i*16,width:16,height:16,fill:ldColors[ci]},lg);
    
    
  });
  ['0.8','0.6','0.4','0.2'].forEach(function(s,i){
    mk('line',{x1:L[0]+19,x2:L[0]+25,y1:L[1]+36+i*16,y2:L[1]+36+i*16,stroke:'#666'},lg);
    const t=txt(lg,L[0]+27,L[1]+40+i*16,s,{'font-size':11,fill:'#333'});
    
    
  });
  // gene box
  const gb=mk('rect',{x:cfg.fx0,y:cfg.gy0,width:cfg.fx1-cfg.fx0,height:cfg.gy1-cfg.gy0,fill:'none',stroke:'#999','stroke-width':1.2},g);
  
  
  const gg=mk('g',{'clip-path':'url(#gclip-'+cfg.id+')'},g);
  const gcp=mk('clipPath',{id:'gclip-'+cfg.id},g);
  mk('rect',{x:cfg.fx0,y:cfg.gy0,width:cfg.fx1-cfg.fx0,height:cfg.gy1-cfg.gy0},gcp);
  genes.forEach(function(ge){
    const ry=cfg.gy0+cfg.rowY[ge.row];
    const gl=mk('line',{x1:X(ge.s),x2:X(ge.e),y1:ry+9,y2:ry+9,stroke:'#2828A0','stroke-width':1},gg);
    
    
    ge.ex.forEach(function(x){
      const l=mk('rect',{x:X(x)-1,y:ry+5,width:2,height:8,fill:'#1a1a90'},gg);
      
      
    });
    const t=txt(gg,X(ge.lc),ry,ge.label,{'font-size':14,'font-style':'italic','text-anchor':'middle'});
    
    
  });
  // x ticks
  xt.forEach(function(v,i){
    const l=mk('line',{x1:X(v),x2:X(v),y1:cfg.gy1,y2:cfg.gy1+12,stroke:'#777'},g);
    
    
    const t=txt(g,X(v),cfg.xlY,xtl[i],{'font-size':18,'text-anchor':'middle',fill:'#444'});
    
    
  });
  const xtt=txt(g,(cfg.fx0+cfg.fx1)/2,cfg.xtY,cfg.xTitle,{'font-size':18,'text-anchor':'middle'});
  
  
  return g;
}

locus({id:'b',fx0:943,fx1:1497,fy0:6,fy1:448,xd0:63.712,xd1:64.712,y0:429,unit:24.43,r100:27,yt:[0,5,10,15],gy0:462,gy1:519,rowY:[15,44],xlY:554,xtY:574,leg:[950,12],lead:'rs2873966',labelY:66,xTitle:'Position on chr17 (Mb)',recEnd:64.712},
  bPoints,bLead,rec17Pos,rec17Rate,chr17Genes,t17,t17L);
const gc=locus({id:'c',fx0:114,fx1:667,fy0:629,fy1:1089,xd0:51.1595,xd1:52.118,y0:1068,unit:38.0,r100:650,yt:[0,2,4,6,8,10],gy0:1103,gy1:1199,rowY:[16,48,80],xlY:1237,xtY:1259,leg:[120,636],lead:'rs117842936',labelY:677,xTitle:'Position on chr18 (Mb)',recEnd:52.06},
  cPoints,cLead,rec18Pos,rec18Rate,chr18Genes,t18,t18L);
[['1 gene',1146],['omitted',1170]].forEach(function(p){
  const t=txt(gc,690,p[1],p[0],{'font-size':17});
  
  
});
locus({id:'d',fx0:944,fx1:1497,fy0:632,fy1:1089,xd0:71.3856,xd1:72.384,y0:1069,unit:39.5,r100:653,yt:[0,2,4,6,8,10],gy0:1104,gy1:1199,rowY:[16,48,80],xlY:1237,xtY:1259,leg:[950,637],lead:'rs148521708',labelY:680,xTitle:'Position on chr9 (Mb)',recEnd:72.384},
  dPoints,dLead,rec9Pos,rec9Rate,chr9Genes,t9,t9L);
locus({id:'e',fx0:114,fx1:667,fy0:1322,fy1:1815,xd0:63.7045,xd1:64.701,y0:1794,unit:38.7,r100:1345,yt:[0,2,4,6,8,10,12],gy0:1831,gy1:1894,rowY:[17,49],xlY:1933,xtY:1952,leg:[609,1328],lead:'rs17690171',labelY:1463,xTitle:'Position on chr17 (Mb)',recEnd:64.701},
  ePoints,eLead,rec17Pos,rec17Rate,chr17Genes,t17,t17L);
locus({id:'f',fx0:943,fx1:1497,fy0:1321,fy1:1817,xd0:63.7215,xd1:64.721,y0:1795,unit:33.7,r100:1344,yt:[0,2,4,6,8,10,12,14],gy0:1832,gy1:1896,rowY:[17,49],xlY:1933,xtY:1952,leg:[1439,1327],lead:'rs8178828',labelY:1373,xTitle:'Position on chr17 (Mb)',recEnd:64.721},
  fPoints,fLead,rec17Pos,rec17Rate.map(function(v){return v;}),chr17Genes,t17,t17L);
</script>
</body></html>
